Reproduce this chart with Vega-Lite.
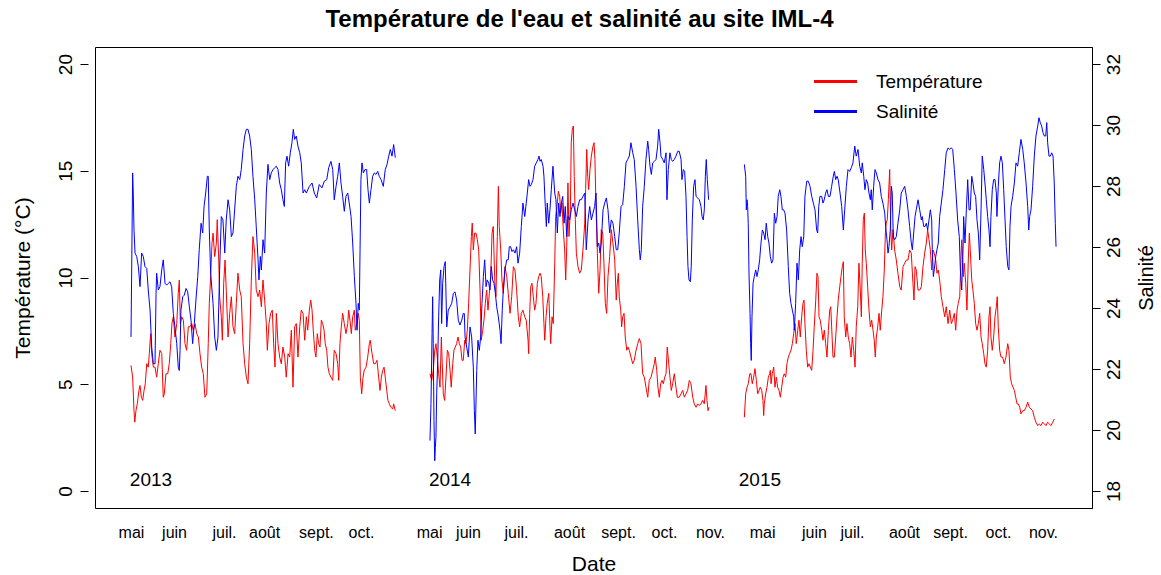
{
"$schema":"https://vega.github.io/schema/vega-lite/v6.json",
"width":997,"height":461,
"autosize":{"type":"none"},
"padding":{"left":95,"top":47,"right":69,"bottom":67},
"background":"white",
"config":{"font":"Liberation Sans","view":{"stroke":"black","strokeWidth":1},"axis":{"grid":false,"labelColor":"black","titleColor":"black","tickColor":"black","domainColor":"black","titleFontWeight":"normal","labelFlush":false}},
"title":{"text":"Température de l'eau et salinité au site IML-4","fontSize":24,"fontWeight":"bold","color":"black","frame":"group","anchor":"middle","dx":-14,"dy":22,"offset":18,"baseline":"alphabetic"},
"datasets":{
"temp":[
{"an":2013,"jour":24.0,"temp":5.88},{"an":2013,"jour":25.1,"temp":5.33},{"an":2013,"jour":26.0,"temp":3.76},{"an":2013,"jour":26.5,"temp":3.22},{"an":2013,"jour":27.3,"temp":3.76},{"an":2013,"jour":28.2,"temp":4.08},{"an":2013,"jour":29.3,"temp":4.71},{"an":2013,"jour":30.0,"temp":4.94},{"an":2013,"jour":30.9,"temp":4.39},{"an":2013,"jour":31.8,"temp":4.24},{"an":2013,"jour":32.7,"temp":4.71},{"an":2013,"jour":33.5,"temp":5.02},{"an":2013,"jour":34.5,"temp":5.96},{"an":2013,"jour":35.5,"temp":5.80},{"an":2013,"jour":36.2,"temp":6.43},{"an":2013,"jour":37.1,"temp":7.37},{"an":2013,"jour":37.8,"temp":6.43},{"an":2013,"jour":38.9,"temp":5.80},{"an":2013,"jour":40.0,"temp":5.80},{"an":2013,"jour":41.1,"temp":5.33},{"an":2013,"jour":42.2,"temp":5.96},{"an":2013,"jour":43.3,"temp":6.59},{"an":2013,"jour":44.5,"temp":6.43},{"an":2013,"jour":45.5,"temp":4.39},{"an":2013,"jour":46.2,"temp":4.55},{"an":2013,"jour":47.3,"temp":5.49},{"an":2013,"jour":48.5,"temp":5.49},{"an":2013,"jour":49.5,"temp":5.96},{"an":2013,"jour":50.5,"temp":6.90},{"an":2013,"jour":51.3,"temp":7.84},{"an":2013,"jour":52.2,"temp":8.16},{"an":2013,"jour":53.3,"temp":7.21},{"an":2013,"jour":54.5,"temp":7.84},{"an":2013,"jour":55.5,"temp":9.26},{"an":2013,"jour":56.2,"temp":9.88},{"an":2013,"jour":56.9,"temp":7.84},{"an":2013,"jour":57.8,"temp":8.16},{"an":2013,"jour":58.9,"temp":8.00},{"an":2013,"jour":60.0,"temp":6.90},{"an":2013,"jour":61.1,"temp":6.59},{"an":2013,"jour":62.2,"temp":7.69},{"an":2013,"jour":63.3,"temp":7.69},{"an":2013,"jour":64.5,"temp":7.84},{"an":2013,"jour":65.5,"temp":7.53},{"an":2013,"jour":66.7,"temp":7.84},{"an":2013,"jour":67.8,"temp":7.37},{"an":2013,"jour":68.9,"temp":7.21},{"an":2013,"jour":70.0,"temp":6.43},{"an":2013,"jour":71.1,"temp":5.80},{"an":2013,"jour":72.2,"temp":5.49},{"an":2013,"jour":73.3,"temp":4.39},{"an":2013,"jour":74.5,"temp":4.55},{"an":2013,"jour":75.5,"temp":6.90},{"an":2013,"jour":76.2,"temp":8.79},{"an":2013,"jour":77.1,"temp":10.04},{"an":2013,"jour":78.0,"temp":11.61},{"an":2013,"jour":78.7,"temp":12.08},{"an":2013,"jour":79.8,"temp":10.98},{"an":2013,"jour":80.9,"temp":11.61},{"an":2013,"jour":81.5,"temp":12.71},{"an":2013,"jour":82.5,"temp":10.82},{"an":2013,"jour":83.1,"temp":9.10},{"an":2013,"jour":84.2,"temp":8.16},{"an":2013,"jour":84.9,"temp":7.06},{"an":2013,"jour":85.8,"temp":9.73},{"an":2013,"jour":86.7,"temp":10.82},{"an":2013,"jour":87.5,"temp":9.41},{"an":2013,"jour":88.7,"temp":7.21},{"an":2013,"jour":89.8,"temp":8.32},{"an":2013,"jour":90.9,"temp":9.10},{"an":2013,"jour":92.0,"temp":7.69},{"an":2013,"jour":93.1,"temp":7.37},{"an":2013,"jour":94.2,"temp":8.79},{"an":2013,"jour":95.3,"temp":10.20},{"an":2013,"jour":96.5,"temp":9.41},{"an":2013,"jour":97.5,"temp":9.10},{"an":2013,"jour":98.7,"temp":6.90},{"an":2013,"jour":99.8,"temp":5.96},{"an":2013,"jour":100.9,"temp":5.33},{"an":2013,"jour":102.0,"temp":5.02},{"an":2013,"jour":103.1,"temp":6.90},{"an":2013,"jour":104.2,"temp":9.88},{"an":2013,"jour":105.3,"temp":11.92},{"an":2013,"jour":106.5,"temp":11.14},{"an":2013,"jour":107.5,"temp":9.41},{"an":2013,"jour":108.7,"temp":9.10},{"an":2013,"jour":109.8,"temp":9.41},{"an":2013,"jour":110.9,"temp":8.63},{"an":2013,"jour":112.0,"temp":9.88},{"an":2013,"jour":113.1,"temp":8.94},{"an":2013,"jour":114.2,"temp":7.84},{"an":2013,"jour":114.9,"temp":6.59},{"an":2013,"jour":116.0,"temp":7.84},{"an":2013,"jour":117.1,"temp":8.32},{"an":2013,"jour":118.2,"temp":8.47},{"an":2013,"jour":119.1,"temp":6.90},{"an":2013,"jour":120.0,"temp":5.80},{"an":2013,"jour":120.9,"temp":8.32},{"an":2013,"jour":122.0,"temp":6.90},{"an":2013,"jour":123.1,"temp":6.27},{"an":2013,"jour":124.2,"temp":5.96},{"an":2013,"jour":125.3,"temp":6.74},{"an":2013,"jour":126.5,"temp":6.27},{"an":2013,"jour":127.5,"temp":5.33},{"an":2013,"jour":128.7,"temp":6.43},{"an":2013,"jour":129.8,"temp":6.27},{"an":2013,"jour":130.9,"temp":7.53},{"an":2013,"jour":132.0,"temp":4.86},{"an":2013,"jour":133.1,"temp":7.69},{"an":2013,"jour":134.2,"temp":7.84},{"an":2013,"jour":135.3,"temp":6.27},{"an":2013,"jour":136.5,"temp":7.69},{"an":2013,"jour":137.5,"temp":8.47},{"an":2013,"jour":138.7,"temp":8.32},{"an":2013,"jour":139.8,"temp":7.06},{"an":2013,"jour":140.9,"temp":8.16},{"an":2013,"jour":141.8,"temp":7.53},{"an":2013,"jour":142.9,"temp":8.47},{"an":2013,"jour":143.8,"temp":8.94},{"an":2013,"jour":144.7,"temp":8.47},{"an":2013,"jour":145.5,"temp":7.53},{"an":2013,"jour":146.5,"temp":6.59},{"an":2013,"jour":147.3,"temp":6.27},{"an":2013,"jour":148.2,"temp":7.37},{"an":2013,"jour":149.1,"temp":6.90},{"an":2013,"jour":150.0,"temp":6.74},{"an":2013,"jour":150.9,"temp":8.00},{"an":2013,"jour":151.8,"temp":7.84},{"an":2013,"jour":152.7,"temp":7.53},{"an":2013,"jour":153.5,"temp":6.90},{"an":2013,"jour":154.5,"temp":6.59},{"an":2013,"jour":155.3,"temp":5.80},{"an":2013,"jour":156.2,"temp":5.49},{"an":2013,"jour":157.3,"temp":5.33},{"an":2013,"jour":158.5,"temp":5.18},{"an":2013,"jour":159.5,"temp":6.59},{"an":2013,"jour":160.7,"temp":6.43},{"an":2013,"jour":161.8,"temp":5.96},{"an":2013,"jour":162.5,"temp":5.18},{"an":2013,"jour":163.3,"temp":6.90},{"an":2013,"jour":164.2,"temp":7.69},{"an":2013,"jour":165.1,"temp":8.32},{"an":2013,"jour":166.2,"temp":7.84},{"an":2013,"jour":167.3,"temp":7.37},{"an":2013,"jour":168.5,"temp":7.84},{"an":2013,"jour":169.1,"temp":8.47},{"an":2013,"jour":170.0,"temp":8.00},{"an":2013,"jour":170.9,"temp":7.37},{"an":2013,"jour":171.8,"temp":8.16},{"an":2013,"jour":172.9,"temp":8.47},{"an":2013,"jour":173.5,"temp":7.53},{"an":2013,"jour":174.5,"temp":7.84},{"an":2013,"jour":175.5,"temp":8.32},{"an":2013,"jour":176.2,"temp":8.00},{"an":2013,"jour":176.9,"temp":5.33},{"an":2013,"jour":177.8,"temp":4.55},{"an":2013,"jour":178.7,"temp":5.33},{"an":2013,"jour":179.5,"temp":5.65},{"an":2013,"jour":180.7,"temp":5.80},{"an":2013,"jour":181.8,"temp":6.27},{"an":2013,"jour":182.9,"temp":6.90},{"an":2013,"jour":183.5,"temp":7.06},{"an":2013,"jour":184.7,"temp":6.43},{"an":2013,"jour":185.8,"temp":5.96},{"an":2013,"jour":186.9,"temp":5.96},{"an":2013,"jour":188.0,"temp":6.12},{"an":2013,"jour":189.1,"temp":5.33},{"an":2013,"jour":190.0,"temp":4.71},{"an":2013,"jour":190.9,"temp":5.33},{"an":2013,"jour":191.8,"temp":5.65},{"an":2013,"jour":192.7,"temp":5.80},{"an":2013,"jour":193.5,"temp":5.33},{"an":2013,"jour":194.5,"temp":4.71},{"an":2013,"jour":195.3,"temp":4.24},{"an":2013,"jour":196.2,"temp":4.08},{"an":2013,"jour":197.3,"temp":3.92},{"an":2013,"jour":198.5,"temp":3.84},{"an":2013,"jour":199.1,"temp":4.08},{"an":2013,"jour":200.2,"temp":3.76},
{"an":2014,"jour":223.3,"temp":5.49},{"an":2014,"jour":224.5,"temp":5.18},{"an":2014,"jour":225.5,"temp":5.65},{"an":2014,"jour":226.5,"temp":6.59},{"an":2014,"jour":227.3,"temp":6.90},{"an":2014,"jour":228.2,"temp":6.27},{"an":2014,"jour":229.1,"temp":5.49},{"an":2014,"jour":230.0,"temp":4.86},{"an":2014,"jour":230.9,"temp":7.21},{"an":2014,"jour":231.5,"temp":5.96},{"an":2014,"jour":232.2,"temp":4.55},{"an":2014,"jour":233.1,"temp":4.24},{"an":2014,"jour":234.0,"temp":5.33},{"an":2014,"jour":234.9,"temp":6.59},{"an":2014,"jour":235.8,"temp":6.43},{"an":2014,"jour":236.7,"temp":5.65},{"an":2014,"jour":237.5,"temp":4.86},{"an":2014,"jour":238.5,"temp":5.96},{"an":2014,"jour":239.3,"temp":6.59},{"an":2014,"jour":240.2,"temp":6.74},{"an":2014,"jour":241.1,"temp":6.90},{"an":2014,"jour":242.0,"temp":7.21},{"an":2014,"jour":242.9,"temp":6.90},{"an":2014,"jour":243.8,"temp":6.74},{"an":2014,"jour":244.7,"temp":6.12},{"an":2014,"jour":245.5,"temp":6.12},{"an":2014,"jour":246.5,"temp":7.06},{"an":2014,"jour":247.3,"temp":6.90},{"an":2014,"jour":248.2,"temp":7.53},{"an":2014,"jour":249.1,"temp":8.79},{"an":2014,"jour":250.0,"temp":10.35},{"an":2014,"jour":250.9,"temp":11.92},{"an":2014,"jour":251.5,"temp":12.55},{"an":2014,"jour":252.2,"temp":11.29},{"an":2014,"jour":253.1,"temp":12.08},{"an":2014,"jour":254.0,"temp":12.08},{"an":2014,"jour":254.9,"temp":11.77},{"an":2014,"jour":255.8,"temp":11.29},{"an":2014,"jour":256.7,"temp":9.41},{"an":2014,"jour":257.5,"temp":7.06},{"an":2014,"jour":258.5,"temp":7.53},{"an":2014,"jour":259.3,"temp":8.00},{"an":2014,"jour":260.2,"temp":8.79},{"an":2014,"jour":261.1,"temp":9.41},{"an":2014,"jour":262.0,"temp":8.47},{"an":2014,"jour":262.9,"temp":9.26},{"an":2014,"jour":263.8,"temp":10.04},{"an":2014,"jour":264.7,"temp":12.08},{"an":2014,"jour":265.5,"temp":12.39},{"an":2014,"jour":266.5,"temp":9.88},{"an":2014,"jour":267.3,"temp":9.10},{"an":2014,"jour":268.2,"temp":11.92},{"an":2014,"jour":268.9,"temp":14.27},{"an":2014,"jour":269.5,"temp":12.39},{"an":2014,"jour":270.5,"temp":11.29},{"an":2014,"jour":271.3,"temp":9.88},{"an":2014,"jour":272.2,"temp":9.26},{"an":2014,"jour":273.3,"temp":10.51},{"an":2014,"jour":274.5,"temp":10.04},{"an":2014,"jour":275.5,"temp":9.26},{"an":2014,"jour":276.7,"temp":8.32},{"an":2014,"jour":277.8,"temp":9.10},{"an":2014,"jour":278.9,"temp":10.51},{"an":2014,"jour":280.0,"temp":10.35},{"an":2014,"jour":281.1,"temp":9.41},{"an":2014,"jour":282.2,"temp":8.16},{"an":2014,"jour":283.1,"temp":7.69},{"an":2014,"jour":284.2,"temp":8.32},{"an":2014,"jour":285.3,"temp":8.47},{"an":2014,"jour":286.5,"temp":8.16},{"an":2014,"jour":287.5,"temp":8.00},{"an":2014,"jour":288.7,"temp":7.06},{"an":2014,"jour":289.1,"temp":6.43},{"an":2014,"jour":289.8,"temp":8.32},{"an":2014,"jour":290.5,"temp":9.57},{"an":2014,"jour":291.3,"temp":9.73},{"an":2014,"jour":292.2,"temp":9.10},{"an":2014,"jour":293.1,"temp":8.47},{"an":2014,"jour":294.0,"temp":8.79},{"an":2014,"jour":294.9,"temp":9.73},{"an":2014,"jour":295.8,"temp":10.04},{"an":2014,"jour":296.7,"temp":10.20},{"an":2014,"jour":297.5,"temp":10.04},{"an":2014,"jour":298.5,"temp":9.10},{"an":2014,"jour":299.3,"temp":7.84},{"an":2014,"jour":299.8,"temp":7.06},{"an":2014,"jour":300.7,"temp":8.16},{"an":2014,"jour":301.5,"temp":8.79},{"an":2014,"jour":302.5,"temp":9.26},{"an":2014,"jour":303.3,"temp":7.69},{"an":2014,"jour":303.8,"temp":6.90},{"an":2014,"jour":304.7,"temp":8.16},{"an":2014,"jour":305.5,"temp":7.84},{"an":2014,"jour":306.5,"temp":10.67},{"an":2014,"jour":307.1,"temp":12.86},{"an":2014,"jour":308.0,"temp":13.33},{"an":2014,"jour":308.9,"temp":14.04},{"an":2014,"jour":309.8,"temp":13.80},{"an":2014,"jour":310.5,"temp":13.02},{"an":2014,"jour":311.3,"temp":13.49},{"an":2014,"jour":312.2,"temp":12.24},{"an":2014,"jour":313.1,"temp":11.29},{"an":2014,"jour":313.8,"temp":9.88},{"an":2014,"jour":314.5,"temp":11.45},{"an":2014,"jour":315.3,"temp":14.43},{"an":2014,"jour":316.0,"temp":11.92},{"an":2014,"jour":316.9,"temp":13.18},{"an":2014,"jour":317.5,"temp":16.32},{"an":2014,"jour":318.2,"temp":16.94},{"an":2014,"jour":318.9,"temp":17.10},{"an":2014,"jour":319.5,"temp":14.74},{"an":2014,"jour":320.2,"temp":12.71},{"an":2014,"jour":320.9,"temp":11.14},{"an":2014,"jour":322.0,"temp":10.51},{"an":2014,"jour":323.1,"temp":10.20},{"an":2014,"jour":324.2,"temp":10.35},{"an":2014,"jour":325.3,"temp":11.29},{"an":2014,"jour":326.5,"temp":12.55},{"an":2014,"jour":327.1,"temp":14.12},{"an":2014,"jour":327.8,"temp":16.00},{"an":2014,"jour":328.5,"temp":14.74},{"an":2014,"jour":329.1,"temp":14.12},{"an":2014,"jour":330.0,"temp":15.06},{"an":2014,"jour":330.9,"temp":15.69},{"an":2014,"jour":332.0,"temp":16.16},{"an":2014,"jour":332.7,"temp":16.32},{"an":2014,"jour":333.3,"temp":15.53},{"an":2014,"jour":334.0,"temp":13.33},{"an":2014,"jour":334.9,"temp":11.14},{"an":2014,"jour":335.8,"temp":9.26},{"an":2014,"jour":336.7,"temp":10.35},{"an":2014,"jour":337.5,"temp":12.24},{"an":2014,"jour":338.5,"temp":12.08},{"an":2014,"jour":339.3,"temp":10.67},{"an":2014,"jour":340.2,"temp":8.79},{"an":2014,"jour":341.1,"temp":8.32},{"an":2014,"jour":342.0,"temp":10.04},{"an":2014,"jour":343.1,"temp":10.98},{"an":2014,"jour":344.2,"temp":12.24},{"an":2014,"jour":345.3,"temp":11.61},{"an":2014,"jour":346.5,"temp":10.82},{"an":2014,"jour":347.5,"temp":8.94},{"an":2014,"jour":348.2,"temp":9.73},{"an":2014,"jour":348.9,"temp":10.20},{"an":2014,"jour":349.5,"temp":9.10},{"an":2014,"jour":350.5,"temp":8.47},{"an":2014,"jour":351.1,"temp":7.69},{"an":2014,"jour":351.8,"temp":8.16},{"an":2014,"jour":352.7,"temp":8.32},{"an":2014,"jour":353.5,"temp":7.21},{"an":2014,"jour":354.5,"temp":6.59},{"an":2014,"jour":355.3,"temp":6.74},{"an":2014,"jour":356.2,"temp":6.59},{"an":2014,"jour":357.3,"temp":6.27},{"an":2014,"jour":358.5,"temp":5.96},{"an":2014,"jour":359.5,"temp":6.12},{"an":2014,"jour":360.7,"temp":6.59},{"an":2014,"jour":361.8,"temp":6.90},{"an":2014,"jour":362.9,"temp":7.14},{"an":2014,"jour":364.0,"temp":6.90},{"an":2014,"jour":365.1,"temp":5.49},{"an":2014,"jour":366.2,"temp":5.33},{"an":2014,"jour":367.3,"temp":4.86},{"an":2014,"jour":368.5,"temp":4.39},{"an":2014,"jour":369.5,"temp":5.18},{"an":2014,"jour":370.7,"temp":5.33},{"an":2014,"jour":371.8,"temp":5.65},{"an":2014,"jour":372.9,"temp":5.96},{"an":2014,"jour":373.5,"temp":6.27},{"an":2014,"jour":374.5,"temp":5.65},{"an":2014,"jour":375.3,"temp":4.86},{"an":2014,"jour":376.2,"temp":4.39},{"an":2014,"jour":377.1,"temp":5.02},{"an":2014,"jour":378.0,"temp":5.18},{"an":2014,"jour":378.9,"temp":5.02},{"an":2014,"jour":379.8,"temp":5.33},{"an":2014,"jour":380.7,"temp":5.49},{"an":2014,"jour":381.5,"temp":6.74},{"an":2014,"jour":382.5,"temp":5.96},{"an":2014,"jour":383.3,"temp":5.33},{"an":2014,"jour":384.2,"temp":4.71},{"an":2014,"jour":385.1,"temp":5.02},{"an":2014,"jour":386.2,"temp":5.49},{"an":2014,"jour":387.3,"temp":4.86},{"an":2014,"jour":388.2,"temp":4.39},{"an":2014,"jour":389.5,"temp":4.39},{"an":2014,"jour":390.7,"temp":4.55},{"an":2014,"jour":391.8,"temp":4.71},{"an":2014,"jour":392.9,"temp":4.39},{"an":2014,"jour":394.0,"temp":4.55},{"an":2014,"jour":395.1,"temp":4.71},{"an":2014,"jour":396.2,"temp":5.18},{"an":2014,"jour":397.3,"temp":5.02},{"an":2014,"jour":398.5,"temp":4.39},{"an":2014,"jour":399.5,"temp":4.08},{"an":2014,"jour":400.7,"temp":3.92},{"an":2014,"jour":401.8,"temp":4.08},{"an":2014,"jour":402.9,"temp":4.00},{"an":2014,"jour":404.0,"temp":4.08},{"an":2014,"jour":405.1,"temp":4.24},{"an":2014,"jour":406.2,"temp":4.08},{"an":2014,"jour":407.3,"temp":4.94},{"an":2014,"jour":408.0,"temp":4.24},{"an":2014,"jour":408.7,"temp":3.76},{"an":2014,"jour":409.3,"temp":3.92},
{"an":2015,"jour":432.9,"temp":3.45},{"an":2015,"jour":433.8,"temp":4.55},{"an":2015,"jour":434.7,"temp":4.86},{"an":2015,"jour":435.5,"temp":5.02},{"an":2015,"jour":436.5,"temp":5.49},{"an":2015,"jour":437.3,"temp":5.49},{"an":2015,"jour":438.2,"temp":5.02},{"an":2015,"jour":439.1,"temp":5.33},{"an":2015,"jour":440.0,"temp":5.73},{"an":2015,"jour":440.9,"temp":5.18},{"an":2015,"jour":441.8,"temp":4.55},{"an":2015,"jour":442.7,"temp":4.71},{"an":2015,"jour":443.5,"temp":4.86},{"an":2015,"jour":444.5,"temp":4.71},{"an":2015,"jour":445.3,"temp":4.24},{"an":2015,"jour":445.8,"temp":3.53},{"an":2015,"jour":446.2,"temp":4.08},{"an":2015,"jour":447.1,"temp":4.55},{"an":2015,"jour":448.0,"temp":4.86},{"an":2015,"jour":448.9,"temp":5.33},{"an":2015,"jour":449.8,"temp":5.49},{"an":2015,"jour":450.2,"temp":5.65},{"an":2015,"jour":450.7,"temp":5.02},{"an":2015,"jour":451.5,"temp":5.49},{"an":2015,"jour":452.5,"temp":5.80},{"an":2015,"jour":453.3,"temp":4.86},{"an":2015,"jour":454.2,"temp":5.33},{"an":2015,"jour":455.1,"temp":4.86},{"an":2015,"jour":456.0,"temp":4.71},{"an":2015,"jour":456.9,"temp":4.39},{"an":2015,"jour":457.8,"temp":4.86},{"an":2015,"jour":458.7,"temp":5.33},{"an":2015,"jour":459.5,"temp":5.49},{"an":2015,"jour":460.5,"temp":5.33},{"an":2015,"jour":461.3,"temp":5.96},{"an":2015,"jour":462.2,"temp":6.27},{"an":2015,"jour":463.1,"temp":6.43},{"an":2015,"jour":464.0,"temp":6.59},{"an":2015,"jour":464.9,"temp":6.90},{"an":2015,"jour":465.8,"temp":7.37},{"an":2015,"jour":466.7,"temp":7.84},{"an":2015,"jour":467.5,"temp":6.90},{"an":2015,"jour":468.5,"temp":7.53},{"an":2015,"jour":469.3,"temp":8.00},{"an":2015,"jour":470.2,"temp":7.21},{"an":2015,"jour":471.1,"temp":8.16},{"an":2015,"jour":472.0,"temp":8.79},{"an":2015,"jour":472.7,"temp":8.94},{"an":2015,"jour":473.3,"temp":7.84},{"an":2015,"jour":474.2,"temp":6.59},{"an":2015,"jour":475.1,"temp":5.80},{"an":2015,"jour":476.0,"temp":5.96},{"an":2015,"jour":476.9,"temp":5.80},{"an":2015,"jour":477.8,"temp":5.65},{"an":2015,"jour":478.7,"temp":6.59},{"an":2015,"jour":479.5,"temp":7.69},{"an":2015,"jour":480.5,"temp":8.94},{"an":2015,"jour":481.3,"temp":10.20},{"an":2015,"jour":482.0,"temp":10.04},{"an":2015,"jour":482.7,"temp":8.16},{"an":2015,"jour":483.5,"temp":8.00},{"an":2015,"jour":484.5,"temp":7.53},{"an":2015,"jour":485.3,"temp":7.06},{"an":2015,"jour":486.2,"temp":7.53},{"an":2015,"jour":487.1,"temp":6.90},{"an":2015,"jour":488.0,"temp":6.27},{"an":2015,"jour":488.9,"temp":7.53},{"an":2015,"jour":489.8,"temp":8.47},{"an":2015,"jour":490.5,"temp":8.63},{"an":2015,"jour":491.1,"temp":7.69},{"an":2015,"jour":492.0,"temp":6.27},{"an":2015,"jour":492.9,"temp":6.27},{"an":2015,"jour":493.8,"temp":7.21},{"an":2015,"jour":494.7,"temp":8.16},{"an":2015,"jour":495.5,"temp":8.94},{"an":2015,"jour":496.5,"temp":9.57},{"an":2015,"jour":497.3,"temp":10.04},{"an":2015,"jour":498.2,"temp":10.51},{"an":2015,"jour":498.9,"temp":10.74},{"an":2015,"jour":499.5,"temp":8.16},{"an":2015,"jour":500.5,"temp":7.21},{"an":2015,"jour":501.3,"temp":7.84},{"an":2015,"jour":502.2,"temp":7.21},{"an":2015,"jour":503.1,"temp":6.90},{"an":2015,"jour":504.0,"temp":6.27},{"an":2015,"jour":504.9,"temp":7.21},{"an":2015,"jour":505.8,"temp":6.59},{"an":2015,"jour":506.7,"temp":5.80},{"an":2015,"jour":507.5,"temp":7.69},{"an":2015,"jour":508.5,"temp":8.63},{"an":2015,"jour":509.3,"temp":10.67},{"an":2015,"jour":510.2,"temp":9.41},{"an":2015,"jour":510.9,"temp":8.16},{"an":2015,"jour":511.5,"temp":10.67},{"an":2015,"jour":512.2,"temp":12.71},{"an":2015,"jour":512.9,"temp":13.02},{"an":2015,"jour":513.5,"temp":11.29},{"an":2015,"jour":514.2,"temp":10.67},{"an":2015,"jour":515.1,"temp":9.57},{"an":2015,"jour":516.0,"temp":8.47},{"an":2015,"jour":516.9,"temp":7.69},{"an":2015,"jour":517.8,"temp":8.00},{"an":2015,"jour":518.7,"temp":7.53},{"an":2015,"jour":519.5,"temp":7.06},{"an":2015,"jour":520.2,"temp":6.27},{"an":2015,"jour":520.9,"temp":7.21},{"an":2015,"jour":521.8,"temp":7.69},{"an":2015,"jour":522.7,"temp":8.32},{"an":2015,"jour":523.5,"temp":7.53},{"an":2015,"jour":524.5,"temp":8.47},{"an":2015,"jour":525.3,"temp":9.10},{"an":2015,"jour":526.2,"temp":10.35},{"an":2015,"jour":526.9,"temp":12.08},{"an":2015,"jour":527.5,"temp":12.55},{"an":2015,"jour":528.2,"temp":12.71},{"an":2015,"jour":528.9,"temp":13.65},{"an":2015,"jour":529.8,"temp":15.06},{"an":2015,"jour":530.5,"temp":12.39},{"an":2015,"jour":531.1,"temp":11.29},{"an":2015,"jour":532.0,"temp":12.24},{"an":2015,"jour":533.1,"temp":11.29},{"an":2015,"jour":534.2,"temp":10.82},{"an":2015,"jour":535.3,"temp":10.20},{"an":2015,"jour":536.5,"temp":9.57},{"an":2015,"jour":537.5,"temp":9.41},{"an":2015,"jour":538.7,"temp":10.51},{"an":2015,"jour":539.8,"temp":10.67},{"an":2015,"jour":540.9,"temp":10.82},{"an":2015,"jour":542.0,"temp":10.82},{"an":2015,"jour":543.1,"temp":11.29},{"an":2015,"jour":544.2,"temp":11.14},{"an":2015,"jour":545.3,"temp":9.73},{"an":2015,"jour":546.0,"temp":8.94},{"an":2015,"jour":546.7,"temp":10.51},{"an":2015,"jour":547.5,"temp":10.35},{"an":2015,"jour":548.7,"temp":9.41},{"an":2015,"jour":549.8,"temp":9.41},{"an":2015,"jour":550.9,"temp":9.57},{"an":2015,"jour":552.0,"temp":10.51},{"an":2015,"jour":553.1,"temp":11.14},{"an":2015,"jour":554.2,"temp":11.61},{"an":2015,"jour":555.1,"temp":12.24},{"an":2015,"jour":556.0,"temp":11.77},{"an":2015,"jour":556.9,"temp":11.29},{"an":2015,"jour":557.8,"temp":10.35},{"an":2015,"jour":558.7,"temp":11.29},{"an":2015,"jour":559.5,"temp":11.14},{"an":2015,"jour":560.5,"temp":10.82},{"an":2015,"jour":561.3,"temp":10.20},{"an":2015,"jour":562.2,"temp":10.35},{"an":2015,"jour":563.1,"temp":9.88},{"an":2015,"jour":564.2,"temp":9.10},{"an":2015,"jour":565.3,"temp":8.63},{"an":2015,"jour":566.5,"temp":8.16},{"an":2015,"jour":567.5,"temp":8.63},{"an":2015,"jour":568.7,"temp":7.84},{"an":2015,"jour":569.8,"temp":8.47},{"an":2015,"jour":570.9,"temp":7.84},{"an":2015,"jour":571.8,"temp":8.00},{"an":2015,"jour":572.9,"temp":8.32},{"an":2015,"jour":573.8,"temp":7.53},{"an":2015,"jour":574.7,"temp":8.47},{"an":2015,"jour":575.5,"temp":8.79},{"an":2015,"jour":576.5,"temp":9.10},{"an":2015,"jour":576.9,"temp":10.04},{"an":2015,"jour":577.8,"temp":11.77},{"an":2015,"jour":578.2,"temp":11.29},{"an":2015,"jour":578.9,"temp":10.04},{"an":2015,"jour":579.5,"temp":10.67},{"an":2015,"jour":580.5,"temp":9.73},{"an":2015,"jour":581.3,"temp":8.47},{"an":2015,"jour":582.2,"temp":10.82},{"an":2015,"jour":582.9,"temp":12.08},{"an":2015,"jour":583.5,"temp":11.29},{"an":2015,"jour":584.5,"temp":9.88},{"an":2015,"jour":585.3,"temp":9.41},{"an":2015,"jour":586.2,"temp":8.79},{"an":2015,"jour":587.1,"temp":7.84},{"an":2015,"jour":588.0,"temp":7.53},{"an":2015,"jour":588.9,"temp":7.84},{"an":2015,"jour":589.8,"temp":8.32},{"an":2015,"jour":590.7,"temp":7.21},{"an":2015,"jour":591.5,"temp":6.90},{"an":2015,"jour":592.5,"temp":6.43},{"an":2015,"jour":593.3,"temp":5.96},{"an":2015,"jour":594.2,"temp":5.80},{"an":2015,"jour":595.1,"temp":6.59},{"an":2015,"jour":596.0,"temp":8.16},{"an":2015,"jour":596.7,"temp":8.63},{"an":2015,"jour":597.3,"temp":7.21},{"an":2015,"jour":598.2,"temp":6.59},{"an":2015,"jour":599.1,"temp":7.21},{"an":2015,"jour":600.0,"temp":8.16},{"an":2015,"jour":600.9,"temp":8.63},{"an":2015,"jour":601.5,"temp":9.10},{"an":2015,"jour":602.2,"temp":7.69},{"an":2015,"jour":603.1,"temp":6.59},{"an":2015,"jour":604.0,"temp":6.27},{"an":2015,"jour":605.1,"temp":6.27},{"an":2015,"jour":606.2,"temp":5.96},{"an":2015,"jour":607.3,"temp":6.27},{"an":2015,"jour":608.5,"temp":6.90},{"an":2015,"jour":609.3,"temp":6.59},{"an":2015,"jour":610.2,"temp":5.33},{"an":2015,"jour":611.1,"temp":5.02},{"an":2015,"jour":612.0,"temp":4.86},{"an":2015,"jour":612.9,"temp":4.71},{"an":2015,"jour":613.8,"temp":4.39},{"an":2015,"jour":614.7,"temp":4.08},{"an":2015,"jour":615.5,"temp":4.08},{"an":2015,"jour":616.5,"temp":3.92},{"an":2015,"jour":617.3,"temp":3.61},{"an":2015,"jour":618.5,"temp":3.76},{"an":2015,"jour":619.5,"temp":3.76},{"an":2015,"jour":620.7,"temp":3.92},{"an":2015,"jour":621.8,"temp":4.16},{"an":2015,"jour":622.9,"temp":3.92},{"an":2015,"jour":624.0,"temp":3.84},{"an":2015,"jour":625.1,"temp":3.76},{"an":2015,"jour":626.2,"temp":3.45},{"an":2015,"jour":627.3,"temp":3.22},{"an":2015,"jour":628.5,"temp":3.06},{"an":2015,"jour":629.5,"temp":3.14},{"an":2015,"jour":630.7,"temp":3.06},{"an":2015,"jour":631.8,"temp":3.22},{"an":2015,"jour":632.9,"temp":3.14},{"an":2015,"jour":634.0,"temp":3.06},{"an":2015,"jour":635.1,"temp":3.22},{"an":2015,"jour":636.2,"temp":3.14},{"an":2015,"jour":637.3,"temp":3.06},{"an":2015,"jour":638.5,"temp":3.22},{"an":2015,"jour":639.5,"temp":3.37}
],
"sal":[
{"an":2013,"jour":24.0,"sal":23.05},{"an":2013,"jour":25.1,"sal":28.43},{"an":2013,"jour":25.5,"sal":27.77},{"an":2013,"jour":26.0,"sal":26.56},{"an":2013,"jour":26.7,"sal":25.80},{"an":2013,"jour":27.8,"sal":25.69},{"an":2013,"jour":28.9,"sal":25.36},{"an":2013,"jour":30.0,"sal":24.70},{"an":2013,"jour":31.1,"sal":25.80},{"an":2013,"jour":32.2,"sal":25.69},{"an":2013,"jour":33.3,"sal":25.36},{"an":2013,"jour":34.5,"sal":25.30},{"an":2013,"jour":35.5,"sal":24.59},{"an":2013,"jour":36.7,"sal":23.93},{"an":2013,"jour":37.8,"sal":22.72},{"an":2013,"jour":38.9,"sal":22.17},{"an":2013,"jour":40.0,"sal":22.17},{"an":2013,"jour":40.7,"sal":24.48},{"an":2013,"jour":41.1,"sal":25.14},{"an":2013,"jour":42.2,"sal":24.59},{"an":2013,"jour":43.3,"sal":24.70},{"an":2013,"jour":44.5,"sal":25.25},{"an":2013,"jour":45.5,"sal":25.58},{"an":2013,"jour":46.7,"sal":24.81},{"an":2013,"jour":47.8,"sal":24.75},{"an":2013,"jour":48.9,"sal":24.81},{"an":2013,"jour":50.0,"sal":24.86},{"an":2013,"jour":51.1,"sal":24.70},{"an":2013,"jour":52.2,"sal":23.82},{"an":2013,"jour":53.3,"sal":23.38},{"an":2013,"jour":54.5,"sal":22.83},{"an":2013,"jour":55.5,"sal":22.06},{"an":2013,"jour":56.2,"sal":21.95},{"an":2013,"jour":56.7,"sal":22.61},{"an":2013,"jour":57.3,"sal":23.93},{"an":2013,"jour":58.5,"sal":24.37},{"an":2013,"jour":59.5,"sal":24.42},{"an":2013,"jour":60.7,"sal":24.64},{"an":2013,"jour":61.8,"sal":24.53},{"an":2013,"jour":62.9,"sal":24.04},{"an":2013,"jour":64.0,"sal":23.60},{"an":2013,"jour":65.1,"sal":22.83},{"an":2013,"jour":66.2,"sal":23.49},{"an":2013,"jour":67.3,"sal":24.26},{"an":2013,"jour":68.5,"sal":25.03},{"an":2013,"jour":69.5,"sal":25.91},{"an":2013,"jour":70.7,"sal":26.78},{"an":2013,"jour":71.8,"sal":26.46},{"an":2013,"jour":72.7,"sal":27.33},{"an":2013,"jour":73.8,"sal":27.77},{"an":2013,"jour":74.9,"sal":28.32},{"an":2013,"jour":75.5,"sal":28.32},{"an":2013,"jour":76.2,"sal":26.56},{"an":2013,"jour":77.1,"sal":25.14},{"an":2013,"jour":78.7,"sal":24.15},{"an":2013,"jour":79.8,"sal":23.05},{"an":2013,"jour":80.9,"sal":22.61},{"an":2013,"jour":82.0,"sal":23.05},{"an":2013,"jour":83.1,"sal":25.25},{"an":2013,"jour":84.2,"sal":27.00},{"an":2013,"jour":85.3,"sal":26.89},{"an":2013,"jour":86.5,"sal":25.80},{"an":2013,"jour":87.5,"sal":26.89},{"an":2013,"jour":88.7,"sal":27.55},{"an":2013,"jour":89.8,"sal":27.22},{"an":2013,"jour":90.9,"sal":26.34},{"an":2013,"jour":92.0,"sal":26.46},{"an":2013,"jour":93.1,"sal":27.22},{"an":2013,"jour":94.2,"sal":27.99},{"an":2013,"jour":95.3,"sal":28.32},{"an":2013,"jour":96.5,"sal":28.21},{"an":2013,"jour":97.5,"sal":28.54},{"an":2013,"jour":98.7,"sal":29.20},{"an":2013,"jour":99.8,"sal":29.64},{"an":2013,"jour":100.9,"sal":29.86},{"an":2013,"jour":102.0,"sal":29.86},{"an":2013,"jour":103.1,"sal":29.64},{"an":2013,"jour":104.2,"sal":29.20},{"an":2013,"jour":105.3,"sal":28.32},{"an":2013,"jour":106.5,"sal":27.55},{"an":2013,"jour":107.5,"sal":26.67},{"an":2013,"jour":108.7,"sal":25.58},{"an":2013,"jour":109.3,"sal":24.92},{"an":2013,"jour":110.2,"sal":25.69},{"an":2013,"jour":110.9,"sal":25.25},{"an":2013,"jour":112.0,"sal":26.24},{"an":2013,"jour":113.1,"sal":25.80},{"an":2013,"jour":114.2,"sal":27.77},{"an":2013,"jour":115.3,"sal":28.71},{"an":2013,"jour":116.5,"sal":28.21},{"an":2013,"jour":117.5,"sal":28.43},{"an":2013,"jour":118.7,"sal":28.54},{"an":2013,"jour":119.8,"sal":28.60},{"an":2013,"jour":120.9,"sal":28.65},{"an":2013,"jour":122.0,"sal":28.54},{"an":2013,"jour":123.1,"sal":28.10},{"an":2013,"jour":124.2,"sal":27.88},{"an":2013,"jour":125.3,"sal":27.55},{"an":2013,"jour":126.2,"sal":27.33},{"an":2013,"jour":127.1,"sal":28.76},{"an":2013,"jour":128.0,"sal":28.98},{"an":2013,"jour":129.1,"sal":28.65},{"an":2013,"jour":130.2,"sal":29.09},{"an":2013,"jour":131.3,"sal":29.42},{"an":2013,"jour":132.2,"sal":29.86},{"an":2013,"jour":133.1,"sal":29.53},{"an":2013,"jour":134.2,"sal":29.64},{"an":2013,"jour":135.3,"sal":29.31},{"an":2013,"jour":136.5,"sal":29.09},{"an":2013,"jour":137.5,"sal":28.76},{"an":2013,"jour":138.7,"sal":27.77},{"an":2013,"jour":139.8,"sal":27.88},{"an":2013,"jour":140.9,"sal":27.77},{"an":2013,"jour":142.9,"sal":27.99},{"an":2013,"jour":144.7,"sal":28.10},{"an":2013,"jour":146.2,"sal":27.77},{"an":2013,"jour":147.8,"sal":27.61},{"an":2013,"jour":149.5,"sal":28.05},{"an":2013,"jour":151.3,"sal":27.94},{"an":2013,"jour":152.9,"sal":28.16},{"an":2013,"jour":154.5,"sal":28.21},{"an":2013,"jour":155.8,"sal":28.60},{"an":2013,"jour":157.3,"sal":28.81},{"an":2013,"jour":158.5,"sal":28.54},{"an":2013,"jour":159.5,"sal":27.55},{"an":2013,"jour":160.7,"sal":27.99},{"an":2013,"jour":161.8,"sal":28.32},{"an":2013,"jour":162.9,"sal":28.76},{"an":2013,"jour":164.0,"sal":28.10},{"an":2013,"jour":165.1,"sal":27.66},{"an":2013,"jour":166.2,"sal":27.17},{"an":2013,"jour":167.3,"sal":27.66},{"an":2013,"jour":168.5,"sal":27.77},{"an":2013,"jour":169.5,"sal":27.44},{"an":2013,"jour":170.7,"sal":27.00},{"an":2013,"jour":171.8,"sal":26.13},{"an":2013,"jour":172.9,"sal":25.03},{"an":2013,"jour":174.0,"sal":24.15},{"an":2013,"jour":174.7,"sal":23.27},{"an":2013,"jour":175.5,"sal":24.15},{"an":2013,"jour":176.2,"sal":23.93},{"an":2013,"jour":176.7,"sal":25.91},{"an":2013,"jour":177.3,"sal":28.21},{"an":2013,"jour":178.0,"sal":28.76},{"an":2013,"jour":178.9,"sal":28.43},{"an":2013,"jour":180.0,"sal":28.54},{"an":2013,"jour":181.1,"sal":28.54},{"an":2013,"jour":182.0,"sal":27.88},{"an":2013,"jour":182.9,"sal":27.44},{"an":2013,"jour":184.0,"sal":27.88},{"an":2013,"jour":185.1,"sal":28.32},{"an":2013,"jour":186.2,"sal":28.43},{"an":2013,"jour":187.3,"sal":28.38},{"an":2013,"jour":188.5,"sal":28.48},{"an":2013,"jour":189.5,"sal":28.32},{"an":2013,"jour":190.7,"sal":28.21},{"an":2013,"jour":192.2,"sal":27.99},{"an":2013,"jour":193.5,"sal":28.54},{"an":2013,"jour":194.7,"sal":28.71},{"an":2013,"jour":195.8,"sal":28.98},{"an":2013,"jour":196.9,"sal":29.20},{"an":2013,"jour":198.0,"sal":28.98},{"an":2013,"jour":199.1,"sal":29.36},{"an":2013,"jour":200.2,"sal":28.93},
{"an":2014,"jour":223.3,"sal":19.65},{"an":2014,"jour":224.0,"sal":20.86},{"an":2014,"jour":224.7,"sal":23.16},{"an":2014,"jour":225.1,"sal":24.37},{"an":2014,"jour":225.5,"sal":22.83},{"an":2014,"jour":226.0,"sal":20.31},{"an":2014,"jour":226.5,"sal":18.99},{"an":2014,"jour":226.9,"sal":19.43},{"an":2014,"jour":227.3,"sal":19.76},{"an":2014,"jour":227.8,"sal":21.19},{"an":2014,"jour":228.5,"sal":22.28},{"an":2014,"jour":229.1,"sal":23.71},{"an":2014,"jour":229.8,"sal":24.92},{"an":2014,"jour":230.5,"sal":25.25},{"an":2014,"jour":231.1,"sal":23.49},{"an":2014,"jour":231.8,"sal":24.81},{"an":2014,"jour":232.7,"sal":25.36},{"an":2014,"jour":233.5,"sal":25.52},{"an":2014,"jour":234.5,"sal":23.38},{"an":2014,"jour":235.5,"sal":23.93},{"an":2014,"jour":236.7,"sal":24.04},{"an":2014,"jour":237.8,"sal":24.15},{"an":2014,"jour":238.9,"sal":24.48},{"an":2014,"jour":240.0,"sal":24.53},{"an":2014,"jour":241.1,"sal":24.26},{"an":2014,"jour":242.2,"sal":23.60},{"an":2014,"jour":243.3,"sal":23.44},{"an":2014,"jour":244.5,"sal":23.60},{"an":2014,"jour":245.5,"sal":23.82},{"an":2014,"jour":246.2,"sal":23.82},{"an":2014,"jour":246.7,"sal":23.05},{"an":2014,"jour":247.8,"sal":22.72},{"an":2014,"jour":248.9,"sal":22.39},{"an":2014,"jour":250.0,"sal":23.38},{"an":2014,"jour":251.1,"sal":23.05},{"an":2014,"jour":252.2,"sal":22.06},{"an":2014,"jour":252.9,"sal":20.64},{"an":2014,"jour":253.5,"sal":19.87},{"an":2014,"jour":254.5,"sal":21.95},{"an":2014,"jour":255.3,"sal":22.94},{"an":2014,"jour":256.2,"sal":22.61},{"an":2014,"jour":257.1,"sal":23.05},{"an":2014,"jour":258.0,"sal":24.15},{"an":2014,"jour":258.9,"sal":25.03},{"an":2014,"jour":259.8,"sal":25.58},{"an":2014,"jour":260.7,"sal":24.70},{"an":2014,"jour":261.5,"sal":24.92},{"an":2014,"jour":262.5,"sal":24.81},{"an":2014,"jour":263.3,"sal":24.59},{"an":2014,"jour":264.2,"sal":25.36},{"an":2014,"jour":265.1,"sal":24.92},{"an":2014,"jour":266.0,"sal":24.81},{"an":2014,"jour":266.9,"sal":24.48},{"an":2014,"jour":267.8,"sal":24.04},{"an":2014,"jour":268.9,"sal":23.71},{"an":2014,"jour":270.0,"sal":23.27},{"an":2014,"jour":270.7,"sal":22.83},{"an":2014,"jour":271.5,"sal":23.93},{"an":2014,"jour":272.2,"sal":24.59},{"an":2014,"jour":273.3,"sal":25.25},{"an":2014,"jour":274.5,"sal":25.58},{"an":2014,"jour":275.5,"sal":25.58},{"an":2014,"jour":276.2,"sal":26.01},{"an":2014,"jour":277.1,"sal":26.01},{"an":2014,"jour":278.0,"sal":25.85},{"an":2014,"jour":278.9,"sal":25.91},{"an":2014,"jour":280.0,"sal":25.80},{"an":2014,"jour":281.1,"sal":26.01},{"an":2014,"jour":282.0,"sal":25.47},{"an":2014,"jour":283.1,"sal":25.80},{"an":2014,"jour":284.2,"sal":26.67},{"an":2014,"jour":285.3,"sal":27.44},{"an":2014,"jour":286.5,"sal":27.00},{"an":2014,"jour":287.5,"sal":27.44},{"an":2014,"jour":288.2,"sal":27.77},{"an":2014,"jour":289.1,"sal":28.21},{"an":2014,"jour":290.0,"sal":27.99},{"an":2014,"jour":290.9,"sal":28.05},{"an":2014,"jour":292.0,"sal":28.21},{"an":2014,"jour":293.1,"sal":28.65},{"an":2014,"jour":294.2,"sal":28.76},{"an":2014,"jour":295.3,"sal":28.87},{"an":2014,"jour":296.0,"sal":28.98},{"an":2014,"jour":296.7,"sal":28.81},{"an":2014,"jour":297.5,"sal":28.87},{"an":2014,"jour":298.7,"sal":28.65},{"an":2014,"jour":299.3,"sal":28.32},{"an":2014,"jour":300.2,"sal":27.33},{"an":2014,"jour":300.9,"sal":26.67},{"an":2014,"jour":301.5,"sal":27.44},{"an":2014,"jour":302.5,"sal":26.78},{"an":2014,"jour":303.3,"sal":27.22},{"an":2014,"jour":304.2,"sal":27.88},{"an":2014,"jour":305.3,"sal":28.65},{"an":2014,"jour":306.5,"sal":27.77},{"an":2014,"jour":307.3,"sal":27.55},{"an":2014,"jour":308.2,"sal":26.46},{"an":2014,"jour":309.1,"sal":27.44},{"an":2014,"jour":310.0,"sal":27.00},{"an":2014,"jour":310.9,"sal":27.44},{"an":2014,"jour":311.8,"sal":27.66},{"an":2014,"jour":312.7,"sal":26.78},{"an":2014,"jour":313.5,"sal":27.33},{"an":2014,"jour":314.5,"sal":26.34},{"an":2014,"jour":315.3,"sal":27.00},{"an":2014,"jour":316.5,"sal":26.89},{"an":2014,"jour":317.5,"sal":27.22},{"an":2014,"jour":318.7,"sal":27.44},{"an":2014,"jour":319.8,"sal":27.22},{"an":2014,"jour":320.9,"sal":27.00},{"an":2014,"jour":322.0,"sal":27.33},{"an":2014,"jour":323.1,"sal":27.55},{"an":2014,"jour":324.2,"sal":27.55},{"an":2014,"jour":325.3,"sal":27.66},{"an":2014,"jour":326.5,"sal":27.77},{"an":2014,"jour":327.5,"sal":25.91},{"an":2014,"jour":328.7,"sal":26.89},{"an":2014,"jour":329.8,"sal":27.33},{"an":2014,"jour":330.9,"sal":26.89},{"an":2014,"jour":332.0,"sal":27.11},{"an":2014,"jour":333.1,"sal":27.33},{"an":2014,"jour":334.0,"sal":27.77},{"an":2014,"jour":334.9,"sal":26.01},{"an":2014,"jour":335.8,"sal":26.13},{"an":2014,"jour":336.7,"sal":25.80},{"an":2014,"jour":337.5,"sal":26.13},{"an":2014,"jour":338.7,"sal":27.22},{"an":2014,"jour":339.8,"sal":27.44},{"an":2014,"jour":340.9,"sal":27.61},{"an":2014,"jour":342.0,"sal":27.22},{"an":2014,"jour":343.1,"sal":26.46},{"an":2014,"jour":344.2,"sal":26.89},{"an":2014,"jour":345.3,"sal":26.78},{"an":2014,"jour":346.5,"sal":26.34},{"an":2014,"jour":347.5,"sal":25.91},{"an":2014,"jour":348.5,"sal":25.91},{"an":2014,"jour":349.5,"sal":26.46},{"an":2014,"jour":350.7,"sal":27.33},{"an":2014,"jour":351.8,"sal":27.39},{"an":2014,"jour":352.9,"sal":27.99},{"an":2014,"jour":354.0,"sal":28.76},{"an":2014,"jour":355.1,"sal":28.87},{"an":2014,"jour":356.2,"sal":28.98},{"an":2014,"jour":357.3,"sal":29.42},{"an":2014,"jour":358.5,"sal":29.09},{"an":2014,"jour":359.5,"sal":28.87},{"an":2014,"jour":360.7,"sal":27.99},{"an":2014,"jour":361.8,"sal":26.89},{"an":2014,"jour":362.9,"sal":25.91},{"an":2014,"jour":363.5,"sal":25.58},{"an":2014,"jour":364.2,"sal":25.91},{"an":2014,"jour":365.1,"sal":27.33},{"an":2014,"jour":366.2,"sal":27.99},{"an":2014,"jour":367.3,"sal":28.87},{"an":2014,"jour":368.5,"sal":29.47},{"an":2014,"jour":369.1,"sal":29.20},{"an":2014,"jour":370.0,"sal":28.65},{"an":2014,"jour":370.9,"sal":28.38},{"an":2014,"jour":371.8,"sal":28.76},{"an":2014,"jour":372.9,"sal":28.81},{"an":2014,"jour":374.0,"sal":28.87},{"an":2014,"jour":375.1,"sal":29.31},{"an":2014,"jour":375.8,"sal":29.86},{"an":2014,"jour":376.7,"sal":29.42},{"an":2014,"jour":377.3,"sal":28.98},{"an":2014,"jour":378.5,"sal":28.87},{"an":2014,"jour":379.5,"sal":28.76},{"an":2014,"jour":380.7,"sal":29.09},{"an":2014,"jour":381.3,"sal":27.55},{"an":2014,"jour":382.2,"sal":28.54},{"an":2014,"jour":383.3,"sal":29.09},{"an":2014,"jour":384.2,"sal":28.87},{"an":2014,"jour":385.1,"sal":28.81},{"an":2014,"jour":386.2,"sal":28.87},{"an":2014,"jour":387.3,"sal":28.98},{"an":2014,"jour":388.5,"sal":29.14},{"an":2014,"jour":389.5,"sal":29.14},{"an":2014,"jour":390.7,"sal":28.87},{"an":2014,"jour":391.3,"sal":28.21},{"an":2014,"jour":392.2,"sal":28.54},{"an":2014,"jour":393.1,"sal":28.48},{"an":2014,"jour":394.0,"sal":27.66},{"an":2014,"jour":394.7,"sal":26.34},{"an":2014,"jour":395.3,"sal":25.36},{"an":2014,"jour":396.0,"sal":24.92},{"an":2014,"jour":396.9,"sal":24.86},{"an":2014,"jour":397.5,"sal":25.36},{"an":2014,"jour":398.2,"sal":26.89},{"an":2014,"jour":399.1,"sal":27.99},{"an":2014,"jour":400.0,"sal":28.21},{"an":2014,"jour":400.7,"sal":27.66},{"an":2014,"jour":401.8,"sal":27.61},{"an":2014,"jour":402.9,"sal":27.55},{"an":2014,"jour":404.0,"sal":27.33},{"an":2014,"jour":404.7,"sal":27.00},{"an":2014,"jour":405.5,"sal":26.89},{"an":2014,"jour":406.2,"sal":27.22},{"an":2014,"jour":406.9,"sal":28.32},{"an":2014,"jour":407.5,"sal":28.87},{"an":2014,"jour":408.2,"sal":28.21},{"an":2014,"jour":409.1,"sal":27.55},
{"an":2015,"jour":432.9,"sal":28.71},{"an":2015,"jour":433.8,"sal":28.32},{"an":2015,"jour":434.2,"sal":27.22},{"an":2015,"jour":434.7,"sal":27.55},{"an":2015,"jour":435.1,"sal":27.33},{"an":2015,"jour":435.5,"sal":26.78},{"an":2015,"jour":436.0,"sal":25.14},{"an":2015,"jour":436.7,"sal":23.82},{"an":2015,"jour":437.1,"sal":22.83},{"an":2015,"jour":437.5,"sal":22.28},{"an":2015,"jour":438.0,"sal":23.71},{"an":2015,"jour":438.7,"sal":24.81},{"an":2015,"jour":439.5,"sal":25.03},{"an":2015,"jour":440.5,"sal":25.25},{"an":2015,"jour":441.3,"sal":25.03},{"an":2015,"jour":442.2,"sal":25.25},{"an":2015,"jour":443.1,"sal":25.58},{"an":2015,"jour":444.0,"sal":26.13},{"an":2015,"jour":444.9,"sal":26.56},{"an":2015,"jour":445.8,"sal":26.46},{"an":2015,"jour":446.7,"sal":26.24},{"an":2015,"jour":447.5,"sal":26.78},{"an":2015,"jour":448.5,"sal":26.34},{"an":2015,"jour":449.3,"sal":26.13},{"an":2015,"jour":450.2,"sal":25.69},{"an":2015,"jour":451.1,"sal":25.47},{"an":2015,"jour":452.0,"sal":25.58},{"an":2015,"jour":452.9,"sal":27.11},{"an":2015,"jour":453.8,"sal":26.78},{"an":2015,"jour":454.7,"sal":27.00},{"an":2015,"jour":455.5,"sal":27.66},{"an":2015,"jour":456.5,"sal":27.88},{"an":2015,"jour":457.3,"sal":27.66},{"an":2015,"jour":458.2,"sal":27.22},{"an":2015,"jour":459.1,"sal":27.22},{"an":2015,"jour":460.0,"sal":27.11},{"an":2015,"jour":461.1,"sal":26.56},{"an":2015,"jour":462.2,"sal":25.36},{"an":2015,"jour":463.1,"sal":24.48},{"an":2015,"jour":464.0,"sal":24.15},{"an":2015,"jour":464.9,"sal":23.93},{"an":2015,"jour":465.8,"sal":23.71},{"an":2015,"jour":466.2,"sal":23.27},{"an":2015,"jour":467.1,"sal":24.15},{"an":2015,"jour":468.0,"sal":25.47},{"an":2015,"jour":468.9,"sal":24.92},{"an":2015,"jour":469.8,"sal":25.91},{"an":2015,"jour":470.7,"sal":26.34},{"an":2015,"jour":471.5,"sal":26.01},{"an":2015,"jour":472.5,"sal":26.34},{"an":2015,"jour":473.3,"sal":27.66},{"an":2015,"jour":474.5,"sal":28.16},{"an":2015,"jour":475.5,"sal":28.16},{"an":2015,"jour":476.7,"sal":27.99},{"an":2015,"jour":477.8,"sal":27.66},{"an":2015,"jour":478.9,"sal":27.44},{"an":2015,"jour":480.0,"sal":27.22},{"an":2015,"jour":481.1,"sal":26.56},{"an":2015,"jour":481.8,"sal":26.46},{"an":2015,"jour":482.5,"sal":27.33},{"an":2015,"jour":483.3,"sal":27.66},{"an":2015,"jour":484.5,"sal":27.66},{"an":2015,"jour":485.3,"sal":27.44},{"an":2015,"jour":486.2,"sal":27.55},{"an":2015,"jour":487.1,"sal":27.77},{"an":2015,"jour":488.0,"sal":27.88},{"an":2015,"jour":488.9,"sal":27.66},{"an":2015,"jour":490.0,"sal":27.66},{"an":2015,"jour":491.1,"sal":27.99},{"an":2015,"jour":492.2,"sal":28.32},{"an":2015,"jour":492.9,"sal":28.48},{"an":2015,"jour":493.8,"sal":28.21},{"an":2015,"jour":494.7,"sal":28.32},{"an":2015,"jour":495.5,"sal":28.21},{"an":2015,"jour":496.7,"sal":27.77},{"an":2015,"jour":497.8,"sal":27.33},{"an":2015,"jour":498.9,"sal":26.56},{"an":2015,"jour":499.8,"sal":27.22},{"an":2015,"jour":500.9,"sal":27.99},{"an":2015,"jour":502.0,"sal":28.54},{"an":2015,"jour":503.1,"sal":28.48},{"an":2015,"jour":504.2,"sal":28.60},{"an":2015,"jour":505.3,"sal":28.76},{"an":2015,"jour":506.5,"sal":29.31},{"an":2015,"jour":507.5,"sal":28.98},{"an":2015,"jour":508.7,"sal":29.20},{"an":2015,"jour":509.8,"sal":28.65},{"an":2015,"jour":510.9,"sal":28.43},{"an":2015,"jour":511.5,"sal":28.76},{"an":2015,"jour":512.5,"sal":28.32},{"an":2015,"jour":513.3,"sal":27.88},{"an":2015,"jour":514.2,"sal":28.21},{"an":2015,"jour":515.1,"sal":28.10},{"an":2015,"jour":516.0,"sal":27.77},{"an":2015,"jour":516.9,"sal":27.55},{"an":2015,"jour":517.5,"sal":27.88},{"an":2015,"jour":518.2,"sal":27.22},{"an":2015,"jour":519.1,"sal":27.99},{"an":2015,"jour":520.0,"sal":28.54},{"an":2015,"jour":520.9,"sal":28.43},{"an":2015,"jour":522.0,"sal":28.21},{"an":2015,"jour":523.1,"sal":28.10},{"an":2015,"jour":524.2,"sal":27.66},{"an":2015,"jour":525.3,"sal":27.44},{"an":2015,"jour":526.5,"sal":27.11},{"an":2015,"jour":527.1,"sal":26.67},{"an":2015,"jour":528.0,"sal":26.24},{"an":2015,"jour":528.7,"sal":25.80},{"an":2015,"jour":529.3,"sal":26.01},{"an":2015,"jour":530.2,"sal":26.56},{"an":2015,"jour":530.9,"sal":27.99},{"an":2015,"jour":531.5,"sal":27.77},{"an":2015,"jour":532.2,"sal":26.34},{"an":2015,"jour":533.1,"sal":26.24},{"an":2015,"jour":534.2,"sal":26.34},{"an":2015,"jour":535.3,"sal":26.78},{"an":2015,"jour":536.5,"sal":27.22},{"an":2015,"jour":537.5,"sal":27.77},{"an":2015,"jour":538.7,"sal":27.88},{"an":2015,"jour":539.8,"sal":27.99},{"an":2015,"jour":540.9,"sal":27.66},{"an":2015,"jour":542.0,"sal":27.22},{"an":2015,"jour":543.1,"sal":26.67},{"an":2015,"jour":544.2,"sal":26.13},{"an":2015,"jour":544.9,"sal":25.91},{"an":2015,"jour":545.8,"sal":26.46},{"an":2015,"jour":546.7,"sal":27.00},{"an":2015,"jour":547.5,"sal":27.22},{"an":2015,"jour":548.7,"sal":27.55},{"an":2015,"jour":549.8,"sal":27.22},{"an":2015,"jour":550.9,"sal":26.89},{"an":2015,"jour":551.5,"sal":27.00},{"an":2015,"jour":552.5,"sal":26.67},{"an":2015,"jour":553.3,"sal":26.67},{"an":2015,"jour":554.2,"sal":26.78},{"an":2015,"jour":555.1,"sal":26.56},{"an":2015,"jour":556.0,"sal":26.89},{"an":2015,"jour":556.9,"sal":27.22},{"an":2015,"jour":557.8,"sal":26.89},{"an":2015,"jour":558.2,"sal":25.91},{"an":2015,"jour":558.9,"sal":25.03},{"an":2015,"jour":559.5,"sal":25.25},{"an":2015,"jour":560.5,"sal":25.69},{"an":2015,"jour":561.3,"sal":25.91},{"an":2015,"jour":562.2,"sal":26.13},{"an":2015,"jour":563.1,"sal":27.00},{"an":2015,"jour":564.2,"sal":27.44},{"an":2015,"jour":565.3,"sal":27.88},{"an":2015,"jour":566.5,"sal":28.54},{"an":2015,"jour":567.5,"sal":29.09},{"an":2015,"jour":568.7,"sal":29.25},{"an":2015,"jour":569.8,"sal":29.20},{"an":2015,"jour":570.9,"sal":29.25},{"an":2015,"jour":571.8,"sal":29.20},{"an":2015,"jour":572.9,"sal":28.54},{"an":2015,"jour":574.0,"sal":27.77},{"an":2015,"jour":575.1,"sal":26.89},{"an":2015,"jour":576.2,"sal":26.34},{"an":2015,"jour":576.9,"sal":25.25},{"an":2015,"jour":577.8,"sal":24.59},{"an":2015,"jour":578.7,"sal":25.91},{"an":2015,"jour":579.1,"sal":27.00},{"an":2015,"jour":580.0,"sal":26.13},{"an":2015,"jour":580.9,"sal":27.22},{"an":2015,"jour":581.8,"sal":28.21},{"an":2015,"jour":582.7,"sal":27.22},{"an":2015,"jour":583.5,"sal":27.22},{"an":2015,"jour":584.5,"sal":28.32},{"an":2015,"jour":585.3,"sal":28.10},{"an":2015,"jour":586.2,"sal":27.77},{"an":2015,"jour":587.1,"sal":27.66},{"an":2015,"jour":588.0,"sal":26.89},{"an":2015,"jour":588.9,"sal":26.46},{"an":2015,"jour":589.8,"sal":25.58},{"an":2015,"jour":590.7,"sal":27.22},{"an":2015,"jour":591.5,"sal":28.98},{"an":2015,"jour":592.5,"sal":28.54},{"an":2015,"jour":593.3,"sal":28.10},{"an":2015,"jour":594.2,"sal":27.55},{"an":2015,"jour":595.1,"sal":27.00},{"an":2015,"jour":596.0,"sal":26.56},{"an":2015,"jour":596.7,"sal":26.01},{"an":2015,"jour":597.3,"sal":27.00},{"an":2015,"jour":598.2,"sal":27.88},{"an":2015,"jour":599.1,"sal":28.21},{"an":2015,"jour":600.0,"sal":28.21},{"an":2015,"jour":600.9,"sal":27.77},{"an":2015,"jour":601.3,"sal":27.00},{"an":2015,"jour":602.2,"sal":27.99},{"an":2015,"jour":603.1,"sal":28.76},{"an":2015,"jour":604.0,"sal":28.98},{"an":2015,"jour":604.9,"sal":28.76},{"an":2015,"jour":605.8,"sal":27.88},{"an":2015,"jour":606.7,"sal":26.89},{"an":2015,"jour":607.5,"sal":26.01},{"an":2015,"jour":608.5,"sal":25.36},{"an":2015,"jour":609.3,"sal":25.25},{"an":2015,"jour":610.0,"sal":26.67},{"an":2015,"jour":610.7,"sal":27.33},{"an":2015,"jour":611.8,"sal":27.66},{"an":2015,"jour":612.9,"sal":28.10},{"an":2015,"jour":614.0,"sal":28.76},{"an":2015,"jour":615.1,"sal":28.65},{"an":2015,"jour":616.2,"sal":29.09},{"an":2015,"jour":617.3,"sal":29.53},{"an":2015,"jour":618.5,"sal":29.20},{"an":2015,"jour":619.5,"sal":28.76},{"an":2015,"jour":620.7,"sal":28.10},{"an":2015,"jour":621.8,"sal":27.33},{"an":2015,"jour":622.5,"sal":26.56},{"an":2015,"jour":623.1,"sal":27.00},{"an":2015,"jour":624.0,"sal":27.22},{"an":2015,"jour":625.1,"sal":27.99},{"an":2015,"jour":626.2,"sal":28.98},{"an":2015,"jour":627.3,"sal":29.64},{"an":2015,"jour":628.5,"sal":29.97},{"an":2015,"jour":629.3,"sal":30.24},{"an":2015,"jour":630.2,"sal":30.08},{"an":2015,"jour":631.1,"sal":29.97},{"an":2015,"jour":632.0,"sal":29.75},{"an":2015,"jour":632.9,"sal":29.64},{"an":2015,"jour":633.8,"sal":29.64},{"an":2015,"jour":634.5,"sal":30.08},{"an":2015,"jour":635.1,"sal":29.42},{"an":2015,"jour":636.0,"sal":28.98},{"an":2015,"jour":636.9,"sal":28.98},{"an":2015,"jour":637.8,"sal":29.09},{"an":2015,"jour":638.7,"sal":28.98},{"an":2015,"jour":639.5,"sal":28.10},{"an":2015,"jour":640.2,"sal":26.78},{"an":2015,"jour":640.7,"sal":26.01}
],
"annees":[{"an":"2013","jour":37.3,"temp":0.5},{"an":"2014","jour":236.7,"temp":0.5},{"an":"2015","jour":443.3,"temp":0.5}]
},
"encoding":{
"x":{"field":"jour","type":"quantitative","title":"Date","scale":{"domain":[0,664.67],"nice":false,"zero":false},
"axis":{"orient":"bottom","values":[24,52.7,86,112.7,147.3,177.3,222.7,248.7,280.7,316,348.7,379.3,410,444.7,479.3,504.7,539.3,570,602,632],
"labelExpr":"['mai','juin','juil.','août','sept.','oct.','mai','juin','juil.','août','sept.','oct.','nov.','mai','juin','juil.','août','sept.','oct.','nov.'][indexof([24,52.7,86,112.7,147.3,177.3,222.7,248.7,280.7,316,348.7,379.3,410,444.7,479.3,504.7,539.3,570,602,632], datum.value)]",
"domain":false,"ticks":false,"tickSize":0,"labelFontSize":16,"labelPadding":16,"labelOverlap":false,"labelBound":false,"title":"Date","titleFontSize":21,"titlePadding":13}}
},
"layer":[
{"data":{"name":"temp"},"mark":{"type":"line","strokeWidth":1},
"encoding":{
"y":{"field":"temp","type":"quantitative","scale":{"domain":[-0.8,20.8],"nice":false,"zero":false},
"axis":{"orient":"left","values":[0,5,10,15,20],"offset":7,"domain":false,"tickSize":8,"labelAngle":-90,"labelAlign":"center","labelBaseline":"bottom","labelPadding":5,"labelFontSize":19,"title":"Température (°C)","titleFontSize":21,"titlePadding":23}},
"detail":{"field":"an"},
"color":{"datum":"Température","scale":{"domain":["Température","Salinité"],"range":["#ff0000","#0000ff"]},
"legend":{"orient":"none","legendX":728,"legendY":22,"title":null,"symbolType":"M-2,0H2","symbolSize":462,"symbolStrokeWidth":3,"labelFontSize":19,"labelOffset":28,"rowPadding":7,"padding":0,"labelColor":"black"}}
}},
{"data":{"name":"sal"},"mark":{"type":"line","strokeWidth":1},
"encoding":{
"y":{"field":"sal","type":"quantitative","scale":{"domain":[17.44,32.56],"nice":false,"zero":false},
"axis":{"orient":"right","values":[18,20,22,24,26,28,30,32],"tickSize":8,"labelAngle":-90,"labelAlign":"center","labelBaseline":"top","labelPadding":4,"labelFontSize":19,"title":"Salinité","titleAngle":-90,"titleBaseline":"top","titleFontSize":20,"titlePadding":13}},
"detail":{"field":"an"},
"color":{"datum":"Salinité"}
}},
{"data":{"name":"annees"},"mark":{"type":"text","fontSize":19,"align":"center","baseline":"middle","color":"black"},
"encoding":{
"y":{"field":"temp","type":"quantitative","scale":{"domain":[-0.8,20.8],"nice":false,"zero":false},"axis":null},
"text":{"field":"an"}
}},
{"data":{"values":[{}]},"mark":{"type":"rule","xOffset":-7,"color":"black","strokeWidth":1},
"encoding":{
"x":{"datum":0},
"y":{"datum":0,"scale":{"domain":[-0.8,20.8],"nice":false,"zero":false},"axis":null},
"y2":{"datum":20}
}}
],
"resolve":{"scale":{"y":"independent"}}
}
